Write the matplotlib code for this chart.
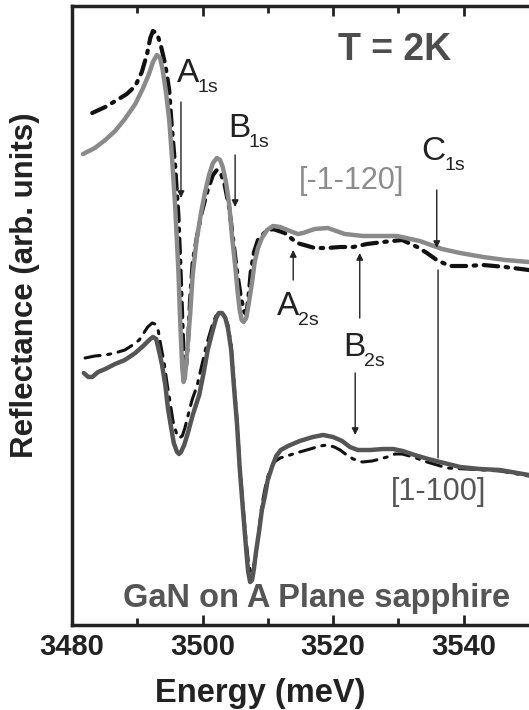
import matplotlib
matplotlib.use("Agg")
import matplotlib.pyplot as plt

plt.rcParams['font.family'] = ['Liberation Sans', 'DejaVu Sans']

# [-1-120] polarisation, solid (light gray)
e_top_solid = [3481.7, 3483.5, 3485.1, 3486.6, 3488.1, 3489.7, 3490.9, 3491.8, 3492.4, 3493.0,
               3493.5, 3493.9, 3494.4, 3494.9, 3495.3, 3495.8, 3496.3, 3496.6, 3496.9, 3497.1,
               3497.3, 3497.6, 3498.1, 3498.5, 3499.1, 3499.8, 3500.4, 3501.0, 3501.6, 3502.2,
               3502.7, 3503.1, 3503.6, 3504.1, 3504.5, 3505.0, 3505.4, 3505.7, 3506.0, 3506.3,
               3506.7, 3507.1, 3507.6, 3508.0, 3508.5, 3509.1, 3509.9, 3510.8, 3511.9, 3513.4,
               3514.6, 3515.4, 3517.2, 3519.2, 3521.8, 3524.6, 3527.2, 3529.8, 3533.3, 3536.7,
               3539.5, 3543.0, 3546.4, 3550.0, 3556.0]
r_top_solid = [4.71, 4.77, 4.85, 4.94, 5.06, 5.21, 5.37, 5.51, 5.63, 5.70,
               5.67, 5.55, 5.33, 5.05, 4.70, 4.20, 3.55, 3.00, 2.57, 2.43,
               2.47, 2.70, 3.10, 3.50, 3.85, 4.13, 4.33, 4.50, 4.62, 4.67,
               4.65, 4.58, 4.43, 4.20, 3.90, 3.60, 3.32, 3.15, 3.05, 3.03,
               3.07, 3.22, 3.43, 3.63, 3.77, 3.87, 3.95, 3.99, 3.98, 3.94,
               3.91, 3.92, 3.96, 3.97, 3.91, 3.89, 3.89, 3.89, 3.84, 3.76,
               3.72, 3.68, 3.65, 3.63, 3.60]

# [-1-120] polarisation, dash-dot
e_top_dash = [3483.1, 3485.1, 3486.9, 3488.4, 3489.7, 3490.7, 3491.5, 3492.0, 3492.4, 3493.0,
              3493.6, 3494.3, 3494.9, 3495.3, 3495.8, 3496.3, 3496.6, 3496.9, 3497.1, 3497.3,
              3497.5, 3497.8, 3498.1, 3498.5, 3499.2, 3499.9, 3500.8, 3501.6, 3502.2, 3502.8,
              3503.4, 3504.1, 3504.7, 3505.3, 3505.9, 3506.4, 3506.7, 3507.0, 3507.4, 3507.9,
              3508.5, 3509.6, 3510.8, 3512.6, 3514.5, 3517.2, 3519.1, 3521.1, 3523.1, 3525.2,
              3527.7, 3530.6, 3532.9, 3534.4, 3535.9, 3537.9, 3540.5, 3543.0, 3546.4, 3550.0,
              3556.0]
r_top_dash = [5.12, 5.18, 5.25, 5.31, 5.39, 5.53, 5.71, 5.87, 5.94, 5.92,
              5.80, 5.60, 5.35, 4.98, 4.60, 4.10, 3.60, 3.05, 2.70, 2.55,
              2.60, 2.85, 3.25, 3.63, 3.90, 4.13, 4.35, 4.50, 4.55, 4.52,
              4.40, 4.17, 3.85, 3.53, 3.27, 3.13, 3.11, 3.25, 3.53, 3.73,
              3.85, 3.93, 3.96, 3.92, 3.82, 3.77, 3.77, 3.78, 3.78, 3.81,
              3.83, 3.85, 3.78, 3.72, 3.65, 3.59, 3.59, 3.60, 3.58, 3.55,
              3.53]

# [1-100] polarisation, solid (dark gray)
e_bot_solid = [3481.8, 3482.5, 3483.1, 3484.0, 3485.1, 3486.6, 3488.1, 3489.7, 3490.9, 3492.0,
               3492.4, 3492.9, 3493.3, 3493.8, 3494.3, 3494.7, 3495.2, 3495.6, 3496.1, 3496.4,
               3496.7, 3497.2, 3497.8, 3498.5, 3499.5, 3500.2, 3500.8, 3501.5, 3502.1, 3502.5,
               3503.0, 3503.5, 3503.9, 3504.4, 3504.8, 3505.3, 3505.7, 3506.2, 3506.7, 3507.0,
               3507.3, 3507.6, 3507.9, 3508.2, 3508.7, 3509.1, 3509.6, 3510.0, 3510.7, 3511.3,
               3512.0, 3513.1, 3514.9, 3516.9, 3518.5, 3520.0, 3521.4, 3522.6, 3523.8, 3525.7,
               3527.7, 3529.2, 3530.7, 3532.5, 3534.6, 3536.4, 3539.5, 3542.5, 3545.6, 3550.0,
               3556.0]
r_bot_solid = [2.52, 2.48, 2.48, 2.53, 2.56, 2.61, 2.65, 2.72, 2.79, 2.86,
               2.88, 2.86, 2.75, 2.60, 2.40, 2.17, 1.97, 1.82, 1.73, 1.71,
               1.73, 1.80, 1.93, 2.10, 2.30, 2.53, 2.75, 2.93, 3.07, 3.12,
               3.12, 3.07, 2.97, 2.75, 2.40, 2.00, 1.57, 1.15, 0.75, 0.53,
               0.43, 0.45, 0.57, 0.73, 0.95, 1.15, 1.30, 1.45, 1.59, 1.69,
               1.75, 1.79, 1.84, 1.88, 1.90, 1.88, 1.84, 1.78, 1.75, 1.75,
               1.76, 1.76, 1.74, 1.70, 1.66, 1.63, 1.58, 1.56, 1.55, 1.50,
               1.47]

# [1-100] polarisation, dash-dot
e_bot_dash = [3482.0, 3483.5, 3485.1, 3486.6, 3488.1, 3489.3, 3490.3, 3491.0, 3491.6, 3492.3,
              3492.7, 3493.2, 3493.6, 3494.1, 3494.6, 3495.1, 3495.5, 3496.0, 3496.4, 3496.9,
              3497.3, 3497.8, 3498.4, 3499.2, 3499.9, 3500.7, 3501.5, 3502.1, 3502.7, 3503.3,
              3503.9, 3504.4, 3504.8, 3505.3, 3505.7, 3506.2, 3506.7, 3507.1, 3507.4, 3507.7,
              3508.2, 3508.7, 3509.1, 3509.6, 3510.2, 3511.0, 3511.9, 3513.4, 3514.9, 3516.5,
              3518.0, 3519.1, 3520.2, 3521.1, 3522.1, 3523.1, 3524.5, 3526.0, 3527.2, 3528.3,
              3529.5, 3530.6, 3532.3, 3534.4, 3537.5, 3540.5, 3545.6, 3550.0]
r_bot_dash = [2.67, 2.69, 2.70, 2.72, 2.75, 2.80, 2.85, 2.92, 2.98, 3.02,
              3.01, 2.95, 2.80, 2.63, 2.40, 2.20, 2.03, 1.92, 1.87, 1.89,
              1.97, 2.10, 2.25, 2.40, 2.60, 2.82, 3.00, 3.10, 3.13, 3.10,
              3.00, 2.80, 2.45, 2.05, 1.63, 1.20, 0.83, 0.60, 0.53, 0.55,
              0.70, 0.97, 1.20, 1.37, 1.53, 1.63, 1.67, 1.70, 1.73, 1.76,
              1.79, 1.80, 1.78, 1.75, 1.70, 1.66, 1.63, 1.64, 1.66, 1.68,
              1.71, 1.71, 1.68, 1.63, 1.57, 1.56, 1.54, 1.49]

xticks = [3480, 3500, 3520, 3540]
minor_xticks = [3490, 3510, 3530]

fig = plt.figure(figsize=(5.29, 7.10), dpi=100)
ax = fig.add_axes([72 / 529, 1 - 625 / 710, 522 / 529, 619 / 710])

ax.plot(e_top_dash, r_top_dash, color='#111111', lw=3.0, dashes=(3.5, 1.8, 0.6, 1.8),
        dash_capstyle='round', dash_joinstyle='round')
ax.plot(e_top_solid, r_top_solid, color='#8a8a8a', lw=3.2, solid_joinstyle='round',
        solid_capstyle='round')
ax.plot(e_bot_dash, r_bot_dash, color='#111111', lw=2.2, dashes=(5, 2.5, 1, 2.5),
        dash_capstyle='round', dash_joinstyle='round')
ax.plot(e_bot_solid, r_bot_solid, color='#555555', lw=3.2, solid_joinstyle='round',
        solid_capstyle='round')

ax.set_xlim(3480, 3560)
ax.set_ylim(0, 6.19)
ax.set_yticks([])
ax.set_xticks(xticks)
ax.set_xticks(minor_xticks, minor=True)
ax.tick_params(axis='x', which='both', direction='in', top=True, width=2, color='#222222',
               labelsize=21, pad=6)
ax.tick_params(axis='x', which='major', length=7)
ax.tick_params(axis='x', which='minor', length=5)
for lab in ax.get_xticklabels():
    lab.set_fontweight('bold')
    lab.set_color('#222222')
for s in ax.spines.values():
    s.set_linewidth(2.5)
    s.set_color('#222222')

ax.set_xlabel('Energy (meV)', fontsize=23.5, fontweight='bold', color='#222222')
ax.xaxis.set_label_coords((260 - 72) / 522, -(678 - 625) / 619)
ax.set_ylabel('Reflectance (arb. units)', fontsize=22.5, fontweight='bold', color='#222222')
ax.yaxis.set_label_coords((40 - 72) / 522, (625 - 285) / 619)


def level(x, y, main, sub):
    t = ax.text(x, y, main, fontsize=24, color='#222222', ha='left', va='baseline')
    ax.annotate(sub, xy=(1, 0), xycoords=t, xytext=(-1, -2), textcoords='offset points',
                fontsize=14, color='#222222', ha='left', va='baseline')


def arrow(x, y0, y1, head=True):
    ax.annotate('', xy=(x, y1), xytext=(x, y0),
                arrowprops=dict(arrowstyle='-|>' if head else '-', color='#222222', lw=1,
                                mutation_scale=10, shrinkA=0, shrinkB=0))


level(3496.1, 5.43, 'A', '1s')
arrow(3496.7, 5.23, 4.27)
level(3503.9, 4.88, 'B', '1s')
arrow(3505.0, 4.70, 4.18)
level(3533.6, 4.65, 'C', '1s')
arrow(3535.9, 4.35, 3.77)
level(3511.4, 3.10, 'A', '2s')
arrow(3513.9, 3.45, 3.75)
level(3521.5, 2.69, 'B', '2s')
arrow(3524.1, 3.07, 3.72)
arrow(3523.4, 2.52, 1.90)
arrow(3536.1, 3.55, 1.67, head=False)

ax.text(3522.9, 4.44, '[-1-120]', fontsize=22, color='#8c8c8c', ha='center', va='center')
ax.text(3536.2, 1.33, '[1-100]', fontsize=22, color='#555555', ha='center', va='center')
ax.text(3529.5, 5.75, 'T = 2K', fontsize=27, fontweight='bold', color='#4d4d4d',
        ha='center', va='center')
ax.text(3517.5, 0.18, 'GaN on A Plane sapphire', fontsize=23.5, fontweight='bold',
        color='#555555', ha='center', va='baseline')

fig.savefig('out.png', dpi=100)
